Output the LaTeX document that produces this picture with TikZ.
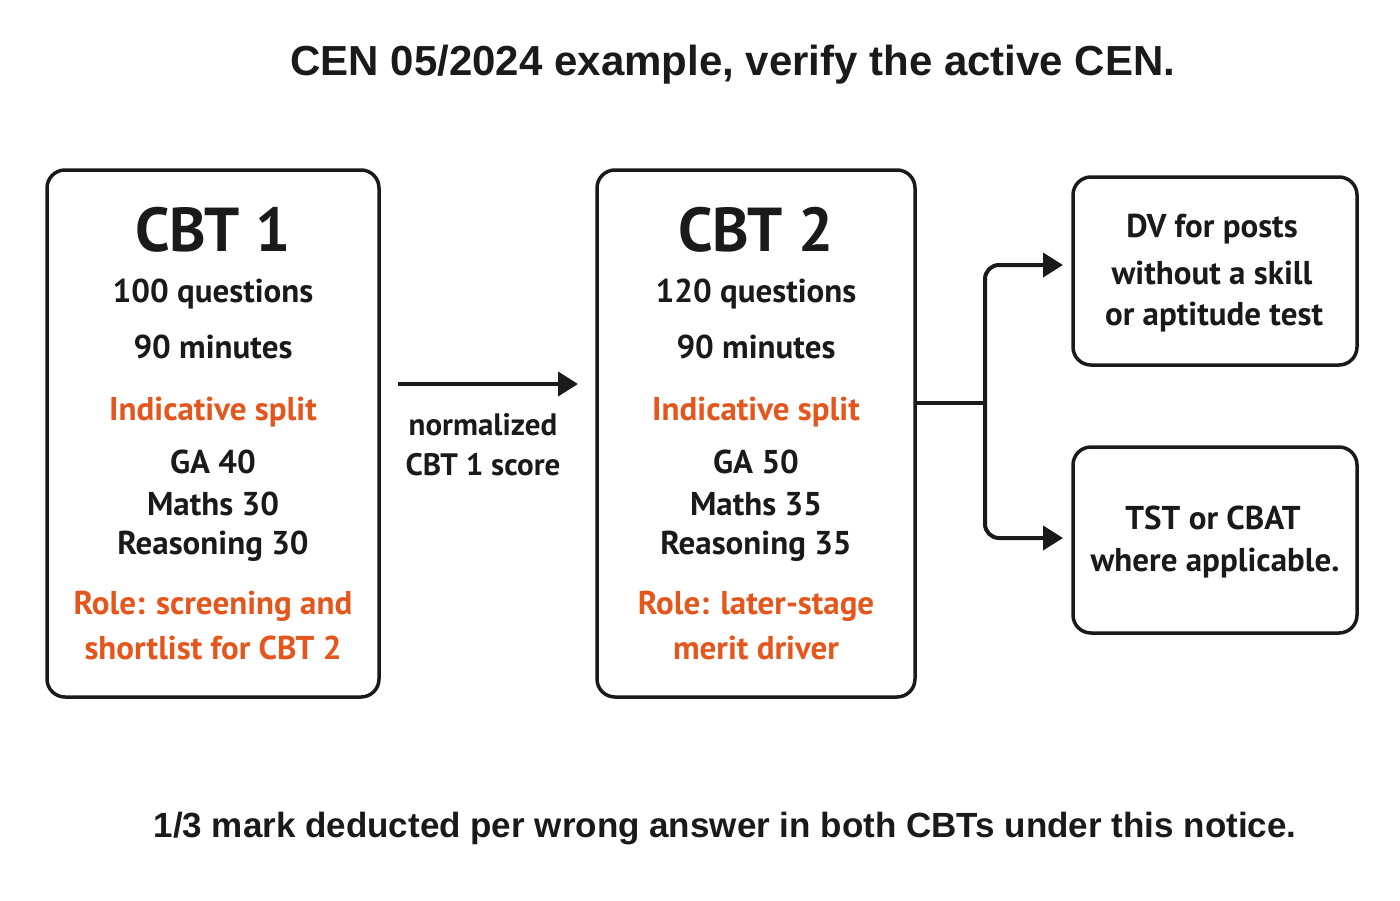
\documentclass[tikz,border=0pt]{standalone}
\usepackage{fontspec}
\setmainfont{PT Sans}
\newfontfamily\lib{Liberation Sans}
\usetikzlibrary{arrows.meta}
\definecolor{ink}{HTML}{1A1A1A}
\definecolor{org}{HTML}{E4561B}
\begin{document}
\begin{tikzpicture}[x=1pt,y=-1pt,
  box/.style={draw=ink,line width=3.5pt,rounded corners=18pt},
  t/.style={text=ink,font=\bfseries\fontsize{33}{36}\selectfont,inner sep=0pt,anchor=center},
  o/.style={t,text=org},
  big/.style={t,font=\bfseries\fontsize{62}{66}\selectfont},
  conn/.style={draw=ink,line width=4pt,-{Triangle[length=20pt,width=24pt]}}]
\useasboundingbox (0,0) rectangle (1400,900);
\node[t,font=\lib\bfseries\fontsize{42}{46}\selectfont] (title) at (733,65) {CEN 05/2024 example, verify the active CEN.};
\draw[box] (47,170) rectangle (379,697);
\draw[box] (597,170) rectangle (915,697);
\node[big] (c1) at (213,230) {CBT 1};
\node[t] (q1) at (213,294) {100 questions};
\node[t] (m1) at (213,347) {90 minutes};
\node[o] (i1) at (213,412) {Indicative split};
\node[t] (g1) at (213,462) {GA 40};
\node[t] (x1) at (213,504) {Maths 30};
\node[t] (r1) at (213,546) {Reasoning 30};
\node[o] (ro1) at (213,606) {Role: screening and};
\node[o] (ro1b) at (213,648) {shortlist for CBT 2};
\node[big] (c2) at (756,230) {CBT 2};
\node[t] (q2) at (756,294) {120 questions};
\node[t] (m2) at (756,347) {90 minutes};
\node[o] (i2) at (756,412) {Indicative split};
\node[t] (g2) at (756,462) {GA 50};
\node[t] (x2) at (756,504) {Maths 35};
\node[t] (r2) at (756,546) {Reasoning 35};
\node[o] (ro2) at (756,606) {Role: later-stage};
\node[o] (ro2b) at (756,648) {merit driver};
\coordinate (a0) at (398,384);
\coordinate (a1) at (578,384);
\draw[conn] (a0) -- (a1);
\node[t,font=\bfseries\fontsize{31}{34}\selectfont] (n1) at (483,425) {normalized};
\node[t,font=\bfseries\fontsize{31}{34}\selectfont] (n2) at (483,465) {CBT 1 score};
\draw[box] (1073,177) rectangle (1357,365);
\draw[box] (1073,447) rectangle (1357,633);
\node[t] (d1) at (1212,229) {DV for posts};
\node[t] (d2) at (1212,273) {without a skill};
\node[t] (d3) at (1214,317) {or aptitude test};
\node[t] (s1) at (1213,518) {TST or CBAT};
\node[t] (s2) at (1215,563) {where applicable.};
\coordinate (bs) at (915,403);
\coordinate (bm) at (985,403);
\coordinate (tu) at (1063,265);
\coordinate (td) at (1063,538);
\draw[draw=ink,line width=4pt] (bs) -- (bm);
\draw[conn,rounded corners=14pt] (bm) |- (tu);
\draw[conn,rounded corners=14pt] (bm) |- (td);
\node[t,font=\lib\bfseries\fontsize{35}{40}\selectfont] (foot) at (725,829) {1/3 mark deducted per wrong answer in both CBTs under this notice.};
\end{tikzpicture}
\end{document}
